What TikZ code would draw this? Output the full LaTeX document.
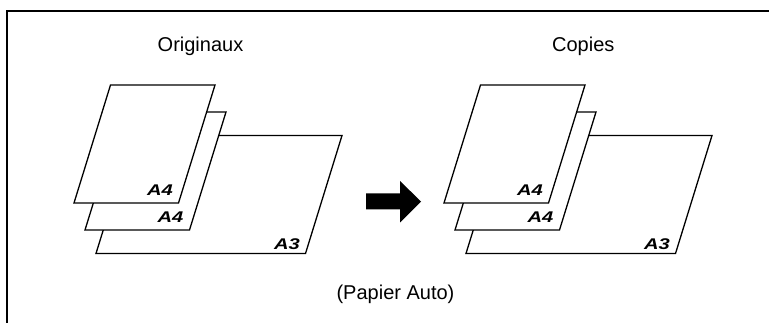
\documentclass[tikz,border=0pt]{standalone}
\usepackage{fontspec}
\setmainfont{Liberation Sans}
\begin{document}
\begin{tikzpicture}[x=1pt,y=-1pt,
  sheet/.style={draw=black, fill=white, line width=1.3pt, line join=miter},
  frame/.style={draw=black, line width=2.2pt, line join=miter},
  title/.style={font=\fontsize{20}{24}\selectfont, anchor=base, inner sep=0pt},
  papersize/.style={font=\fontsize{15.5}{18}\selectfont\bfseries\itshape, anchor=base, inner sep=0pt, xscale=1.3},
  bigarrow/.style={fill=black, draw=none}]
\useasboundingbox (0,0) rectangle (769,323);
\draw[frame] (7,323) -- (7,11) -- (769,11);
\foreach \dx/\nm in {0/L,370/R}{
  \begin{scope}[shift={(\dx,0)}]
    \filldraw[sheet] (96,253.5) -- (305.5,253.5) -- (342,135.5) -- (132.5,135.5) -- cycle;
    \filldraw[sheet] (85,230) -- (189.5,230) -- (226,112) -- (121.5,112) -- cycle;
    \filldraw[sheet] (74,203) -- (178.5,203) -- (215,85) -- (110.5,85) -- cycle;
    \node[papersize] (a4top\nm) at (160,196) {A4};
    \node[papersize] (a4mid\nm) at (170.5,222.7) {A4};
    \node[papersize] (a3\nm) at (287,249.3) {A3};
  \end{scope}
}
\fill[bigarrow] (366,193.5) -- (400,193.5) -- (400,181) -- (421,201.5) -- (400,222.5) -- (400,209.5) -- (366,209.5) -- cycle;
\node[title] (orig) at (200.5,51.5) {Originaux};
\node[title] (copies) at (583.3,52) {Copies};
\node[title] (papier) at (395.5,300) {(Papier Auto)};
\end{tikzpicture}
\end{document}
